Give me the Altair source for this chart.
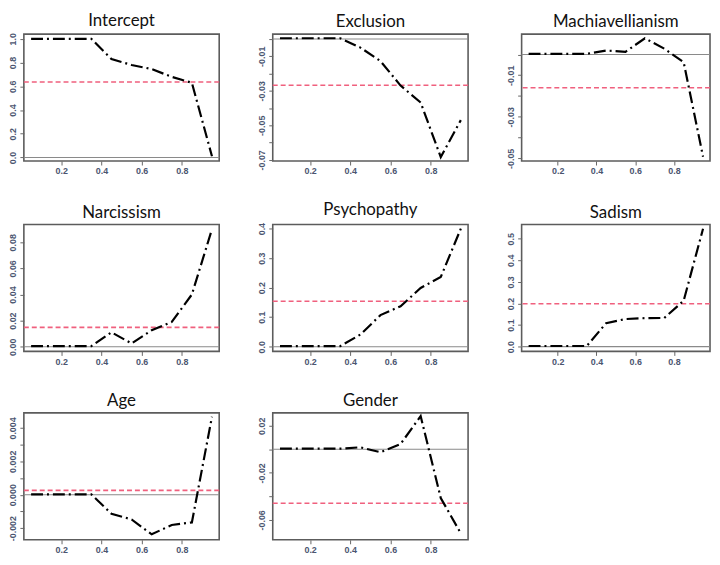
import altair as alt
import pandas as pd

taus = [0.05, 0.15, 0.25, 0.35, 0.45, 0.55, 0.65, 0.75, 0.85, 0.95]

intercept = [1.0, 1.0, 1.0, 1.0, 0.83, 0.78, 0.745, 0.68, 0.63, 0.01]
exclusion = [0.0004, 0.0004, 0.0004, 0.0004, -0.005, -0.0128, -0.027, -0.0368, -0.0684, -0.047]
machiavellianism = [0.0003, 0.0003, 0.0003, 0.0003, 0.0019, 0.0013, 0.0078, 0.0028, -0.0037, -0.0492]
narcissism = [0.0005, 0.0005, 0.0005, 0.0005, 0.011, 0.0025, 0.0126, 0.019, 0.04, 0.09]
psychopathy = [0.002, 0.002, 0.002, 0.002, 0.041, 0.107, 0.137, 0.199, 0.236, 0.4]
sadism = [0.003, 0.003, 0.003, 0.003, 0.109, 0.128, 0.132, 0.133, 0.213, 0.546]
age = [0.00002, 0.00002, 0.00002, 0.00002, -0.00114, -0.00148, -0.00237, -0.00181, -0.00166, 0.00467]
gender = [0.0006, 0.0006, 0.0006, 0.0006, 0.0017, -0.0025, 0.0045, 0.0283, -0.0414, -0.0716]

titles = ["Intercept", "Exclusion", "Machiavellianism", "Narcissism", "Psychopathy",
          "Sadism", "Age", "Gender"]
series = [intercept, exclusion, machiavellianism, narcissism, psychopathy, sadism, age, gender]
ols = [0.637, -0.0268, -0.016, 0.0148, 0.154, 0.199, 0.00026, -0.0459]

y_domains = [[-0.03, 1.04], [-0.0707, 0.0028], [-0.0513, 0.0098], [-0.0036, 0.0936],
             [-0.016, 0.414], [-0.022, 0.566], [-0.0027, 0.0049], [-0.077, 0.031]]
y_ticks = [[0.0, 0.2, 0.4, 0.6, 0.8, 1.0],
           [-0.07, -0.06, -0.05, -0.04, -0.03, -0.02, -0.01, 0.0],
           [-0.05, -0.04, -0.03, -0.02, -0.01, 0.0],
           [0.0, 0.02, 0.04, 0.06, 0.08],
           [0.0, 0.1, 0.2, 0.3, 0.4],
           [0.0, 0.1, 0.2, 0.3, 0.4, 0.5],
           [-0.002, -0.001, 0.0, 0.001, 0.002, 0.003, 0.004],
           [-0.06, -0.04, -0.02, 0.0, 0.02]]
y_labels = [[0.0, 0.2, 0.4, 0.6, 0.8, 1.0],
            [-0.07, -0.05, -0.03, -0.01],
            [-0.05, -0.03, -0.01],
            [0.0, 0.02, 0.04, 0.06, 0.08],
            [0.0, 0.1, 0.2, 0.3, 0.4],
            [0.0, 0.1, 0.2, 0.3, 0.4, 0.5],
            [-0.002, 0.0, 0.002, 0.004],
            [-0.06, -0.02, 0.02]]
y_digits = [1, 2, 2, 2, 1, 1, 3, 2]
x_ticks = [0.2, 0.4, 0.6, 0.8]

LABEL_COLOR = "#4b5570"
TICK_COLOR = "#666666"


def panel(i, width, height):
    df = pd.DataFrame({"tau": taus, "coef": series[i]})
    d = y_digits[i]
    scale = 10 ** d
    keep = [int(round(v * scale)) for v in y_labels[i]]
    label_expr = (
        f"indexof({keep}, round(datum.value*{scale})) >= 0 ? "
        f"replace(format(datum.value, '.{d}f'), '\u2212', '-') : ''"
    )
    ysc = alt.Scale(domain=y_domains[i], nice=False, zero=False)
    xsc = alt.Scale(domain=[0.014, 0.986], nice=False, zero=False)
    yaxis = alt.Axis(values=y_ticks[i], labelExpr=label_expr, labelAngle=270,
                     labelAlign="center", labelBaseline="bottom", title=None,
                     labelOverlap=False)
    xaxis = alt.Axis(values=x_ticks, format=".1f", title=None, labelOverlap=False)

    line = alt.Chart(df).mark_line(color="black", strokeWidth=2.2,
                                   strokeDash=[12, 4, 2, 4], clip=True).encode(
        x=alt.X("tau:Q", scale=xsc, axis=xaxis),
        y=alt.Y("coef:Q", scale=ysc, axis=yaxis),
    )
    zero = alt.Chart(pd.DataFrame({"coef": [0.0]})).mark_rule(
        color="#8a8a8a", strokeWidth=1.1).encode(
        y=alt.Y("coef:Q", scale=ysc, axis=yaxis))
    ref = alt.Chart(pd.DataFrame({"coef": [ols[i]]})).mark_rule(
        color="#f0607e", strokeWidth=1.6, strokeDash=[5, 3]).encode(
        y=alt.Y("coef:Q", scale=ysc, axis=yaxis))
    return alt.layer(zero, ref, line).properties(
        width=width, height=height,
        title=alt.Title(titles[i], fontSize=17, font="Lato", fontWeight="normal",
                        color="#111111", offset=3),
    )


H = 128
widths = [197, 197, 190]
row1 = alt.hconcat(*[panel(i, widths[i], H) for i in range(0, 3)], spacing=36)
row2 = alt.hconcat(*[panel(i, widths[i - 3], H) for i in range(3, 6)], spacing=36)
row3 = alt.hconcat(*[panel(i, widths[i - 6], H) for i in range(6, 8)], spacing=36)

chart = alt.vconcat(row1, row2, row3, spacing=24).properties(padding=0).configure_view(
    stroke="#5c5c5c", strokeWidth=1.6
).configure_axis(
    domain=False, grid=False, tickSize=4, tickColor=TICK_COLOR, tickWidth=1,
    labelFont="Liberation Sans", labelFontSize=9, labelColor=LABEL_COLOR,
    labelPadding=2, labelFontWeight="bold", labelOverlap=False,
)

chart.save("out.html", embed_options={"renderer": "svg", "actions": False})
